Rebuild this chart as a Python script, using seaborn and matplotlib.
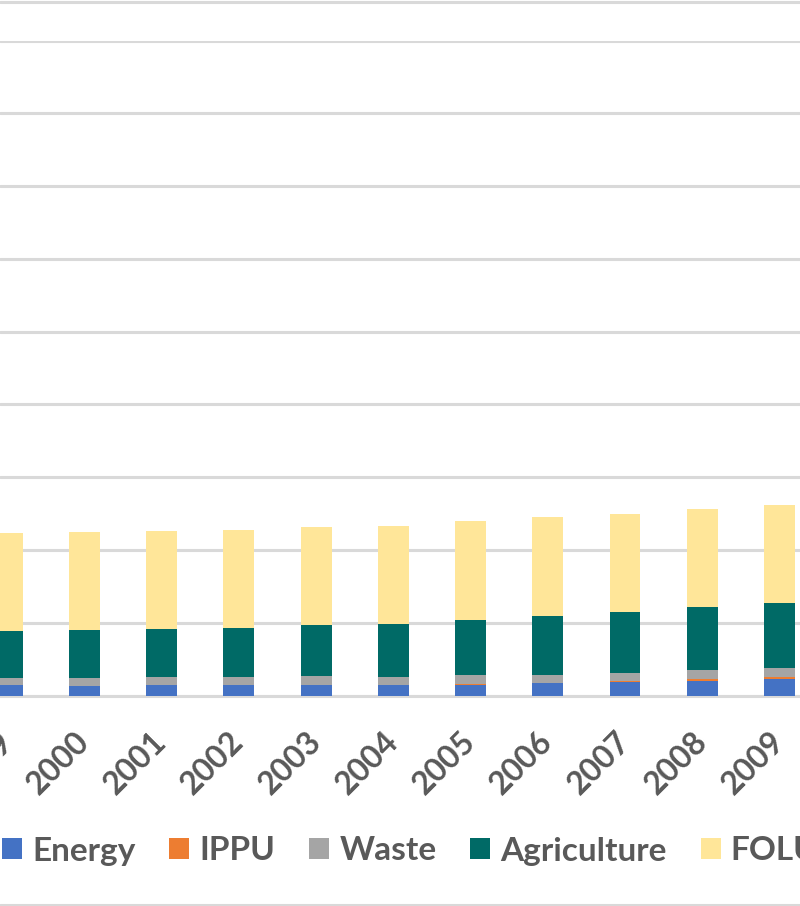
import matplotlib
matplotlib.use("Agg")
import matplotlib.pyplot as plt
from matplotlib.lines import Line2D
from matplotlib.patches import Patch
import seaborn as sns
import pandas as pd
import numpy as np

years = ["1999", "2000", "2001", "2002", "2003", "2004", "2005", "2006", "2007", "2008", "2009"]
energy = [13.8, 12.4, 13.8, 13.8, 13.8, 13.8, 15.1, 16.5, 17.9, 19.3, 22.0]
ippu = [0.3, 0.3, 0.3, 0.3, 0.3, 0.3, 0.4, 0.5, 1.4, 2.8, 2.8]
waste = [9.6, 11.0, 11.0, 11.0, 12.4, 11.0, 12.4, 11.0, 11.0, 12.4, 12.4]
agriculture = [64.7, 66.0, 66.0, 67.4, 70.2, 72.9, 75.7, 81.2, 83.9, 86.7, 89.4]
folu = [134.9, 135.0, 135.0, 135.0, 135.0, 135.0, 136.2, 136.2, 135.0, 135.0, 135.0]

series_names = ["Energy", "IPPU", "Waste", "Agriculture", "FOLU"]
series_values = [energy, ippu, waste, agriculture, folu]
colors = ["#4472C4", "#ED7D31", "#A5A5A5", "#006A66", "#FFE699"]

sns.set_theme(style="white")
plt.rcParams["font.family"] = ["Lato", "DejaVu Sans"]

W, H = 800, 906
fig = plt.figure(figsize=(W / 100, H / 100), dpi=100)
fig.patch.set_facecolor("white")

y_base = 695.5
y_top = 40.5
ax = fig.add_axes([0, (H - y_base) / H, 1, (y_base - y_top) / H])

cum = np.zeros(len(years))
cums = []
for vals in series_values:
    cum = cum + np.array(vals)
    cums.append(cum.copy())

for name, c, color in reversed(list(zip(series_names, cums, colors))):
    d = pd.DataFrame({"year": years, "value": c})
    sns.barplot(data=d, x="year", y="value", color=color, width=0.40,
                saturation=1, ax=ax, linewidth=0, zorder=3)

handles = [Patch(facecolor=col, edgecolor="none") for col in colors]

ax.set_yticks(np.arange(0, 901, 100))
ax.set_yticklabels([])
ax.tick_params(axis="y", length=0)
ax.yaxis.grid(True, color="#D9D9D9", linewidth=2.2, zorder=0)
ax.set_axisbelow(True)
for s in ["left", "right", "top"]:
    ax.spines[s].set_visible(False)
ax.spines["bottom"].set_color("#D9D9D9")
ax.spines["bottom"].set_linewidth(2.2)
ax.set_xlabel("")
ax.set_ylabel("")

ax.set_xticks(np.arange(len(years)))
ax.set_xticklabels(years, rotation=45, ha="right", va="center",
                   rotation_mode="anchor", fontsize=23, fontweight="bold",
                   color="#595959")
ax.set_xticks(np.arange(len(years) + 1) - 0.5, minor=True)
ax.tick_params(axis="x", which="major", length=0, pad=30)
ax.tick_params(axis="x", which="minor", length=7.5, width=2.2, color="#D9D9D9")

spacing = 77.22
c0 = 7.28
ax.set_xlim(-c0 / spacing, (W - c0) / spacing)
ax.set_ylim(0, 900)

fs = 24
fs_px = fs * 100 / 72
leg = fig.legend(handles, series_names, loc="center left",
                 bbox_to_anchor=(2 / W, 1 - 851 / H), ncol=5, frameon=False,
                 prop={"family": ["Lato", "DejaVu Sans"], "weight": "bold", "size": fs},
                 labelcolor="#595959", handlelength=20 / fs_px, handleheight=20 / fs_px,
                 handletextpad=10 / fs_px, columnspacing=34 / fs_px, borderpad=0,
                 borderaxespad=0)

fig.add_artist(Line2D([0, 1], [1 - 1.5 / H, 1 - 1.5 / H], color="#D9D9D9", linewidth=2.2,
                      transform=fig.transFigure))
fig.add_artist(Line2D([0, 1], [1 - 904.5 / H, 1 - 904.5 / H], color="#D9D9D9", linewidth=2.2,
                      transform=fig.transFigure))

fig.savefig("out.png", dpi=100)
